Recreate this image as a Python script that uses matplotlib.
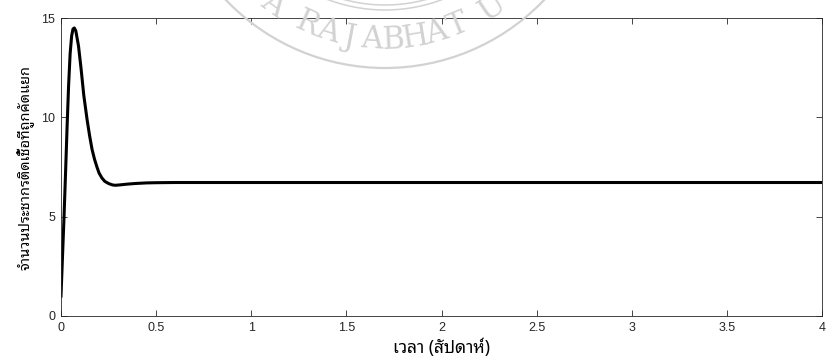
import numpy as np
import matplotlib
matplotlib.use('Agg')
import matplotlib.pyplot as plt
from matplotlib.patches import Arc
from matplotlib.transforms import IdentityTransform

# time (weeks) and isolated infected population
weeks = [0, 0.008, 0.016, 0.024, 0.032, 0.040, 0.048, 0.056, 0.063, 0.070,
         0.078, 0.092, 0.105, 0.120, 0.137, 0.150, 0.163, 0.176, 0.189, 0.200,
         0.215, 0.230, 0.250, 0.270, 0.285, 0.310, 0.350, 0.390, 0.450, 0.500,
         0.600, 1.0, 1.5, 2.0, 2.5, 3.0, 3.5, 4.0]
isolated = [1.0, 3.0, 5.0, 7.2, 9.5, 11.6, 13.2, 14.1, 14.45, 14.5,
            14.35, 13.6, 12.5, 11.1, 9.9, 9.1, 8.4, 7.9, 7.5, 7.2,
            6.95, 6.78, 6.67, 6.6, 6.58, 6.6, 6.64, 6.67, 6.7, 6.71,
            6.72, 6.72, 6.72, 6.72, 6.72, 6.72, 6.72, 6.72]

xticks = [0, 0.5, 1, 1.5, 2, 2.5, 3, 3.5, 4]
xticklabels = ['0', '0.5', '1', '1.5', '2', '2.5', '3', '3.5', '4']
yticks = [0, 5, 10, 15]

thai = ['Noto Sans Thai Looped', 'Noto Sans Thai', 'DejaVu Sans']
plt.rcParams['font.family'] = ['Liberation Sans', 'DejaVu Sans']

fig = plt.figure(figsize=(8.32, 3.61), dpi=100)
ax = fig.add_axes([0.0733, 0.1247, 0.9147, 0.8253])
ax.patch.set_visible(False)

# faint university seal behind the plot
seal_c = (385, 361 + 152)
seal_col = '#d2d2d2'
for r, lw in [(220, 1.6), (162, 1.1), (157, 1.1)]:
    fig.patches.append(Arc(seal_c, 2 * r, 2 * r, theta1=180, theta2=360,
                           transform=IdentityTransform(), color=seal_col,
                           lw=lw, zorder=0))
seal_text = 'A RAJABHAT U'
phi_deg = -125.5
for ch in seal_text:
    if ch == ' ':
        phi_deg += 5.0
        continue
    phi = np.radians(phi_deg)
    px = seal_c[0] + 192 * np.cos(phi)
    py = seal_c[1] + 192 * np.sin(phi)
    fig.text(px, py, ch, transform=IdentityTransform(), color=seal_col,
             fontsize=22, family='DejaVu Serif', ha='center', va='center',
             rotation=phi_deg + 90, rotation_mode='anchor', zorder=0)
    phi_deg += 6.6

ax.plot(weeks, isolated, color='black', lw=2.2, solid_joinstyle='round')

ax.set_xlim(0, 4)
ax.set_ylim(0, 15)
ax.set_xticks(xticks)
ax.set_xticklabels(xticklabels)
ax.set_yticks(yticks)
ax.tick_params(direction='in', length=4, width=0.6, top=True, right=True,
               labelsize=9, colors='#262626', pad=4)
for s in ax.spines.values():
    s.set_color('#262626')
    s.set_linewidth(0.6)

ax.set_xlabel('เวลา (สัปดาห์)', family=thai, fontsize=12.5, labelpad=4)
ax.set_ylabel('จำนวนประชากรติดเชื้อที่ถูกคัดแยก', family=thai, fontsize=10.5,
              labelpad=5)

fig.savefig('out.png', dpi=100)
